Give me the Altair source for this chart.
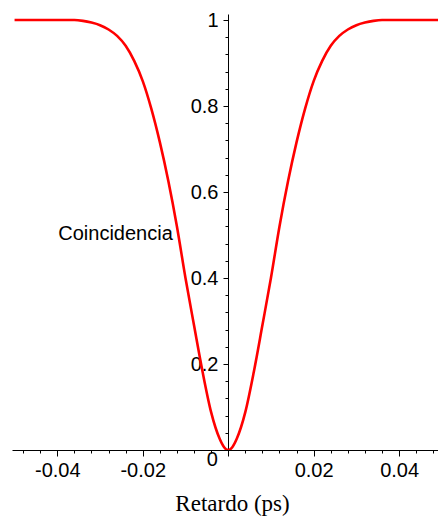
import altair as alt
import pandas as pd

# Coincidence curve vs. delay (ps)
retardo = [
    -0.050, -0.045, -0.040, -0.036, -0.034, -0.032, -0.030, -0.028, -0.026,
    -0.024, -0.022, -0.020, -0.018, -0.016, -0.014, -0.012, -0.010, -0.008,
    -0.006, -0.004, -0.002, -0.001, 0.000, 0.001, 0.002, 0.004, 0.006, 0.008,
    0.010, 0.012, 0.014, 0.016, 0.018, 0.020, 0.022, 0.024, 0.026, 0.028,
    0.030, 0.032, 0.034, 0.036, 0.040, 0.045, 0.050,
]
coincidencia = [
    1.000, 1.000, 1.000, 1.000, 0.998, 0.994, 0.988, 0.978, 0.963,
    0.940, 0.905, 0.858, 0.794, 0.716, 0.625, 0.520, 0.400, 0.290,
    0.182, 0.088, 0.026, 0.007, 0.000, 0.007, 0.026, 0.088, 0.182, 0.290,
    0.400, 0.520, 0.625, 0.716, 0.794, 0.858, 0.905, 0.940, 0.963, 0.978,
    0.988, 0.994, 0.998, 1.000, 1.000, 1.000, 1.000,
]

# Axis tick positions (majors every 0.02 / 0.2, minors in between)
x_ticks = [
    -0.048, -0.044, -0.040, -0.036, -0.032, -0.028, -0.024, -0.020, -0.016,
    -0.012, -0.008, -0.004, 0.000, 0.004, 0.008, 0.012, 0.016, 0.020, 0.024,
    0.028, 0.032, 0.036, 0.040, 0.044, 0.048,
]
y_ticks = [
    0.04, 0.08, 0.12, 0.16, 0.20, 0.24, 0.28, 0.32, 0.36, 0.40, 0.44, 0.48,
    0.52, 0.56, 0.60, 0.64, 0.68, 0.72, 0.76, 0.80, 0.84, 0.88, 0.92, 0.96, 1.00,
]

df = pd.DataFrame({"t": retardo, "c": coincidencia})
origin = pd.DataFrame({"t": [0.0], "c": [0.0], "s": ["0"]})

SANS = "Liberation Sans"
SERIF = "Liberation Serif"

x_major = "abs(abs(datum.value) - 0.02) < 1e-6 || abs(abs(datum.value) - 0.04) < 1e-6 || abs(datum.value) < 1e-6"
x_label = "abs(abs(datum.value) - 0.02) < 1e-6 || abs(abs(datum.value) - 0.04) < 1e-6"
y_major = "abs(datum.value * 5 - round(datum.value * 5)) < 1e-6"

x_scale = alt.Scale(domain=[-0.0506, 0.0491], nice=False, zero=False)
y_scale = alt.Scale(domain=[0, 1.014], nice=False, zero=False)

x_axis = alt.Axis(
    values=x_ticks,
    tickCount=len(x_ticks) + 5,
    labelExpr=f"({x_label}) ? (datum.value < 0 ? '-' : '') + format(abs(datum.value), '.2f') : ''",
    labelOverlap=False,
    labelFont=SANS,
    labelFontSize=20,
    labelColor="black",
    labelPadding=4,
    tickSize={"condition": {"test": x_major, "value": 6}, "value": 3},
    tickColor="black",
    tickWidth=1,
    domainColor="black",
    domainWidth=1,
    grid=False,
    title="Retardo (ps)",
    titleFont=SERIF,
    titleFontSize=23,
    titleFontWeight="normal",
    titleColor="black",
    titleX=220,
    titleY=53,
    titleAlign="center",
    titleBaseline="middle",
)

y_axis = alt.Axis(
    values=y_ticks,
    tickCount=len(y_ticks) + 5,
    offset=-216,
    labelExpr=f"({y_major}) ? (datum.value > 0.99 ? '1' : format(datum.value, '.1f')) : ''",
    labelOverlap=False,
    labelFont=SANS,
    labelFontSize=20,
    labelColor="black",
    labelPadding=5,
    tickSize={"condition": {"test": y_major, "value": 5}, "value": 3},
    tickColor="black",
    tickWidth=1,
    domainColor="black",
    domainWidth=1,
    grid=False,
    title="Coincidencia",
    titleFont=SANS,
    titleFontSize=20,
    titleFontWeight="normal",
    titleColor="black",
    titleAngle=0,
    titleX=-113,
    titleY=219,
    titleAlign="center",
    titleBaseline="middle",
)

curve = alt.Chart(df).mark_line(
    color="#ff0000", strokeWidth=2.6, clip=True, interpolate="monotone"
).encode(
    x=alt.X("t:Q", scale=x_scale, axis=x_axis),
    y=alt.Y("c:Q", scale=y_scale, axis=y_axis),
)

zero_label = alt.Chart(origin).mark_text(
    font=SANS, fontSize=20, color="black", dx=-16, dy=10, align="center", baseline="middle"
).encode(
    x=alt.X("t:Q", scale=x_scale),
    y=alt.Y("c:Q", scale=y_scale),
    text="s:N",
)

chart = (
    alt.layer(curve, zero_label)
    .properties(
        width=426,
        height=436,
        autosize=alt.AutoSizeParams(type="none"),
        padding={"left": 12, "top": 14, "right": 0, "bottom": 66},
        background="white",
    )
    .configure_view(stroke=None)
)

chart.save("out.html", embed_options={"renderer": "svg", "actions": False})
